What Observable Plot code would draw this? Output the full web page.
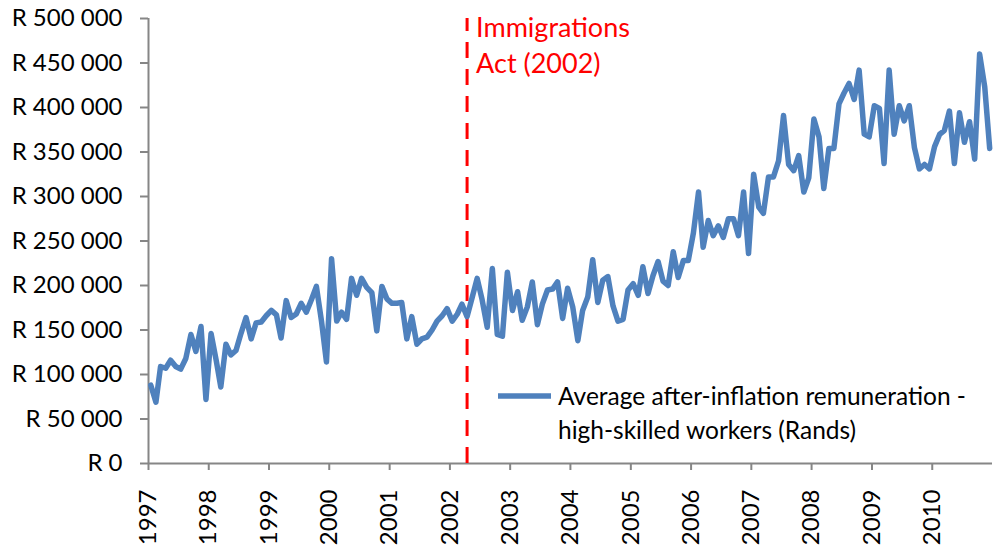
<!DOCTYPE html>
<html>
<head>
<meta charset="utf-8">
<script src="https://cdn.jsdelivr.net/npm/d3@7"></script>
<script src="https://cdn.jsdelivr.net/npm/@observablehq/plot@0.6"></script>
<style>
  html, body { margin: 0; padding: 0; background: #fff; }
  #chart svg { display: block; }
</style>
</head>
<body>
<div id="chart"></div>
<script>
// Monthly series, January 1997 - December 2010 (Rands, after inflation)
const startYear = 1997;
const remuneration = [
  // 1997
  88000, 69000, 109000, 107000, 116000, 109000, 106000, 118000, 145000, 126000, 154000, 72000,
  // 1998
  146000, 116000, 86000, 134000, 122000, 127000, 146000, 164000, 140000, 158000, 159000, 166000,
  // 1999
  172000, 167000, 141000, 183000, 164000, 168000, 180000, 170000, 184000, 199000, 160000, 114000,
  // 2000
  230000, 160000, 170000, 162000, 208000, 189000, 208000, 198000, 192000, 149000, 199000, 185000,
  // 2001
  180000, 180000, 181000, 140000, 165000, 134000, 140000, 142000, 150000, 160000, 166000, 174000,
  // 2002
  160000, 168000, 179000, 165000, 186000, 208000, 184000, 153000, 219000, 145000, 143000, 215000,
  // 2003
  172000, 193000, 161000, 176000, 204000, 156000, 179000, 195000, 196000, 204000, 163000, 197000,
  // 2004
  176000, 138000, 172000, 187000, 229000, 181000, 206000, 210000, 177000, 160000, 162000, 195000,
  // 2005
  202000, 189000, 221000, 191000, 211000, 227000, 205000, 200000, 238000, 209000, 228000, 228000,
  // 2006
  259000, 305000, 243000, 273000, 256000, 267000, 254000, 275000, 275000, 256000, 305000, 236000,
  // 2007
  325000, 288000, 281000, 322000, 322000, 340000, 391000, 336000, 329000, 346000, 305000, 321000,
  // 2008
  387000, 367000, 309000, 354000, 354000, 404000, 416000, 427000, 409000, 442000, 370000, 367000,
  // 2009
  402000, 399000, 337000, 442000, 370000, 402000, 385000, 402000, 355000, 331000, 336000, 331000,
  // 2010
  356000, 370000, 374000, 396000, 337000, 394000, 361000, 384000, 342000, 460000, 423000, 354000
];
const yTicks = [0, 50000, 100000, 150000, 200000, 250000, 300000, 350000, 400000, 450000, 500000];
const yearTicks = [1997, 1998, 1999, 2000, 2001, 2002, 2003, 2004, 2005, 2006, 2007, 2008, 2009, 2010];
const eventYear = 2002, eventMonth = 3; // April 2002
const eventLabel = ["Immigrations", "Act (2002)"];
const seriesLabel = ["Average after-inflation remuneration -", "high-skilled workers (Rands)"];

const data = remuneration.map((v, i) => ({
  date: new Date(Date.UTC(startYear + Math.floor(i / 12), i % 12, 15)),
  value: v
}));
const yearDates = yearTicks.map(y => new Date(Date.UTC(y, 0, 1)));
const domainStart = new Date(Date.UTC(startYear, 0, 1));
const domainEnd = new Date(Date.UTC(yearTicks[yearTicks.length - 1] + 1, 0, 1));
const eventDate = new Date(Date.UTC(eventYear, eventMonth, 15));
const rands = d => "R " + d3.format(",")(d).replace(/,/g, " ");

const axisColor = "#868686";
const blue = "#4F81BD";
const font = "Lato, 'Open Sans', sans-serif";

const chart = Plot.plot({
  width: 995,
  height: 546,
  marginLeft: 148,
  marginRight: 3,
  marginTop: 18,
  marginBottom: 83,
  style: { fontFamily: font, fontSize: "24px", color: "#000", background: "#fff", overflow: "visible" },
  x: { type: "utc", domain: [domainStart, domainEnd] },
  y: { domain: [0, 500000] },
  marks: [
    Plot.axisY({
      ticks: yTicks, tickFormat: rands, tickSize: 8, tickPadding: 18,
      stroke: axisColor, strokeWidth: 2, fill: "#000", label: null, fontSize: 24
    }),
    Plot.axisX({
      ticks: yearDates, tickFormat: d3.utcFormat("%Y"), tickRotate: -90,
      tickSize: 7, tickPadding: 19, stroke: axisColor, strokeWidth: 2,
      fill: "#000", label: null, fontSize: 24
    }),
    Plot.ruleY([0], { stroke: axisColor, strokeWidth: 2 }),
    Plot.ruleX([domainStart], { stroke: axisColor, strokeWidth: 2 }),
    Plot.ruleX([eventDate], { y1: 0, y2: 500000, stroke: "#FF0000", strokeWidth: 3, strokeDasharray: "16,11" }),
    Plot.line(data, { x: "date", y: "value", stroke: blue, strokeWidth: 5.5, strokeLinejoin: "round", strokeLinecap: "round" }),
    Plot.text([eventLabel.join("\n")], {
      x: () => eventDate, y: () => 500000, text: d => d,
      textAnchor: "start", lineAnchor: "top", dx: 9, dy: -6,
      fill: "#FF0000", fontSize: 27, lineHeight: 1.3
    })
  ]
});

document.getElementById("chart").appendChild(chart);

// Legend (inside the plot area, lower right)
const svg = d3.select(chart);
const lg = svg.append("g")
  .attr("font-family", font).attr("font-size", 24.5)
  .attr("fill", "#000").attr("text-anchor", "start");
lg.append("line")
  .attr("x1", 498).attr("x2", 551).attr("y1", 396).attr("y2", 396)
  .attr("stroke", blue).attr("stroke-width", 5.5);
seriesLabel.forEach((t, i) => {
  lg.append("text").attr("x", 558).attr("y", 405 + i * 34).attr("text-anchor", "start").text(t);
});
</script>
</body>
</html>
